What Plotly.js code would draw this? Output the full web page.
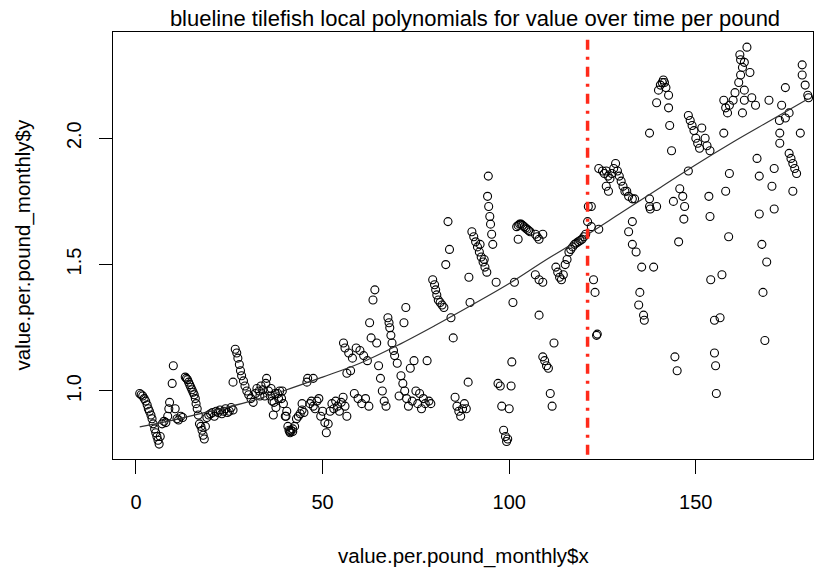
<!DOCTYPE html>
<html>
<head>
<meta charset="utf-8">
<script src="https://cdn.plot.ly/plotly-3.0.1.min.js"></script>
<style>
  body { margin: 0; background: #fff; }
  #chart { width: 826px; height: 569px; }
</style>
</head>
<body>
<div id="chart"></div>
<script>
// monthly value per pound
const monthX = [
  1,1.4,1.8,2.2,2.6,3,3.3,3.6,4,4.3,4.6,5,5.3,5.6,5.9,6.2,6.5,7,7.5,8,8.5,8.8,9,9.7,10,10.5,11,11.4,12,12.5,
  13.2,13.5,13.8,14.1,14.4,14.7,15,15.3,15.6,15.9,16.1,16.4,16.7,17,17.4,17.7,18,18.3,18.6,19,19.5,20,20.5,21,21.5,22,22.5,23,23.5,24,24.5,25,25.5,26,
  26.6,27,27.3,27.7,28,28.3,26,28.8,29.2,29.7,30.2,30.8,31.4,32,32.4,33,33.5,34,34.5,35,35.5,36,36.5,37,37.5,38,38.5,39,39.5,40,
  40.4,40.7,41,41.2,41.5,42,42.5,43,43.5,44,44.5,45,45.8,46,46.6,47,47.5,48,48.5,49,49.5,50,50.6,51,51.5,52,52.5,53,53.5,54,54.5,55,55.5,56,56.5,
  33.2,34.8,36.2,37.3,38.2,39.2,36.8,40.2,41.3,42,44.5,47.5,
  55.6,56,56.5,57,57.5,58,58.5,59,59.5,60,60.5,61,61.5,62,62.4,62.6,63,63.5,64,64.5,65,65.5,66,66.5,67,67.5,67.8,68,68.3,68.6,69,69.3,70,70.5,
  71,71.5,71.8,72,72.3,72.5,73,73.5,74,74.5,75,75.5,76,76.5,77,77.5,78,78.5,79,79.5,80,80.3,80.6,81,81.5,82,82.5,83,83.6,84,84.4,85,85.5,86,86.5,87,87.5,88,88.5,89,89.2,89.5,
  90,90.5,91,91.5,92,92.5,93,93.5,92.2,93.3,94,94.4,94.2,94.5,94.8,95,95.3,95.6,96.5,97,97.6,98,98.5,99,99.3,99.6,100,100.5,100.7,101,101.4,
  102,102.4,102.8,103.2,103.6,104,104.4,104.8,105.2,105.6,102.4,107,107.5,108,109,107,108,109,108,109,109.5,110,110.5,111,111.5,112,
  112.5,113,113.5,114,114.5,115,115.5,116,116.5,117,117.5,118,118.5,119,119.5,120,120.5,121,121.2,
  122,122,122.6,123,123.4,123.6,124,124,125,125.5,126,126.5,127,127.5,128,128.5,129,129.5,130,130.5,131,126.6,126,131.5,132,133,133.6,
  133,132,133,134,134.7,135,135.5,136,136.2,137.6,137.6,137.8,137.6,138.7,139.5,139.5,140,140.5,141,141.3,141.6,142,142.7,142.7,143,143.5,144,
  144.4,145,145.4,145.7,146.5,147,146.8,148,148,148.5,149,149.5,150,150.5,151,
  151.6,152.5,153,153.8,153.5,153.8,154,155,155,155.3,155.5,156.5,157,157.5,157.5,158,158.5,159,160,160.5,158,159,158.8,
  161.5,162,162.5,162,161.8,163,163.7,164.5,163,163,162.5,165,166,166.4,167,167,167.7,168,168.5,169,169.6,170.4,171,171,
  172.4,172.5,172.5,173,174,174,175,175,175.5,176,176.5,177,176,178,178.5,178.5,179.3,180,180.2
];
const valueY = [
  0.99,0.985,0.98,0.97,0.96,0.945,0.93,0.92,0.905,0.89,0.87,0.85,0.835,0.82,0.805,0.79,0.82,0.87,0.88,0.875,0.9,0.93,0.955,1.03,1.10,0.93,0.89,0.885,0.9,0.895,
  1.055,1.05,1.045,1.035,1.025,1.015,1.005,0.995,0.985,0.97,0.95,0.93,0.905,0.87,0.86,0.845,0.825,0.81,0.86,0.895,0.905,0.91,0.915,0.9,0.92,0.915,0.925,0.91,0.92,0.93,0.915,0.92,0.935,0.925,
  1.165,1.15,1.13,1.105,1.08,1.06,1.035,1.04,1.02,1.0,0.985,0.97,0.955,0.99,1.01,1.0,1.02,1.005,0.98,1.05,1.0,0.98,0.96,0.955,0.935,0.99,1.0,0.97,0.95,0.9,
  0.92,0.86,0.845,0.84,0.845,0.85,0.86,0.89,0.9,0.91,0.925,0.915,1.035,1.05,0.95,0.96,0.94,0.93,0.96,0.97,0.9,0.92,0.875,0.835,0.87,0.92,0.95,0.93,0.96,0.94,0.92,0.955,0.975,0.94,0.9,
  0.98,1.03,1.01,0.99,0.97,1.0,0.905,0.9,0.835,0.84,0.95,1.05,
  1.19,1.17,1.07,1.15,1.08,1.13,0.99,1.17,0.97,1.16,0.95,1.14,0.97,1.12,0.94,1.27,1.21,1.36,1.40,1.19,1.10,1.05,1.0,0.96,0.94,1.29,1.27,1.25,1.22,1.19,1.16,1.14,1.11,0.98,
  1.06,1.03,1.27,1.0,1.33,0.97,0.94,1.09,0.96,1.12,1.0,0.95,0.99,0.93,0.97,0.95,1.12,0.96,0.95,1.44,1.42,1.40,1.38,1.36,1.35,1.34,1.33,1.50,1.67,1.56,1.29,1.21,0.975,0.94,0.92,0.90,0.93,0.95,0.93,1.035,1.45,1.35,
  1.63,1.61,1.59,1.57,1.55,1.53,1.51,1.49,1.58,1.52,1.47,1.85,1.77,1.73,1.69,1.66,1.62,1.58,1.43,1.03,1.02,0.94,0.845,0.82,0.80,0.81,0.93,1.02,1.115,1.35,1.43,
  1.65,1.655,1.66,1.66,1.655,1.65,1.645,1.64,1.635,1.63,1.60,1.62,1.61,1.60,1.62,1.46,1.44,1.43,1.30,1.135,1.12,1.10,1.09,0.99,0.94,1.19,
  1.49,1.47,1.45,1.44,1.46,1.50,1.52,1.55,1.56,1.57,1.58,1.585,1.59,1.595,1.60,1.61,1.62,1.67,1.73,
  1.73,1.65,1.44,1.39,1.22,1.225,1.64,1.88,1.87,1.86,1.87,1.85,1.84,1.86,1.88,1.90,1.87,1.85,1.83,1.81,1.79,1.79,1.81,1.79,1.77,1.76,1.76,
  1.67,1.63,1.58,1.55,1.34,1.39,1.49,1.30,1.28,1.76,1.73,1.72,2.02,1.49,1.73,2.14,2.19,2.21,2.22,2.23,2.22,2.20,2.17,2.12,2.05,1.95,1.75,
  1.135,1.08,1.59,1.80,1.77,1.73,1.68,1.87,2.09,2.07,2.05,2.03,2.00,1.98,1.96,
  2.04,2.00,1.97,1.95,1.77,1.69,1.44,1.28,1.15,1.10,0.99,1.29,1.46,2.02,2.15,2.12,2.10,2.13,2.15,2.18,1.79,1.86,1.61,
  2.22,2.25,2.28,2.31,2.33,2.30,2.36,2.26,2.19,2.15,2.10,2.16,2.13,1.92,1.85,1.70,1.58,1.39,1.20,1.51,2.15,1.81,1.88,1.72,
  2.07,2.02,1.98,2.13,2.20,2.08,2.10,1.94,1.92,1.90,1.88,1.86,1.79,2.02,2.29,2.25,2.21,2.17,2.16
];

// local polynomial fit
const fitX = [1, 10, 20, 30, 40, 50, 60, 70, 80, 90, 100, 110, 120, 130, 140, 150, 160, 170, 180];
const fitY = [0.858, 0.885, 0.92, 0.957, 1.003, 1.055, 1.11, 1.18, 1.258, 1.34, 1.425, 1.52, 1.61, 1.705, 1.80, 1.895, 1.985, 2.07, 2.155];

const breakX = 121;
const xTicks = [0, 50, 100, 150];
const yTicks = [1.0, 1.5, 2.0];

const font = "Liberation Sans, Arial, Helvetica, sans-serif";

let data = [
  {
    x: monthX,
    y: valueY,
    type: "scatter",
    mode: "markers",
    marker: { symbol: "circle-open", size: 8, color: "#000", line: { width: 1.1 } },
    hoverinfo: "x+y"
  },
  {
    x: fitX,
    y: fitY,
    type: "scatter",
    mode: "lines",
    line: { color: "#333", width: 1.2, shape: "spline" }
  }
];

let layout = {
  width: 826,
  height: 569,
  margin: { l: 113, r: 13, t: 32, b: 110 },
  paper_bgcolor: "#fff",
  plot_bgcolor: "#fff",
  showlegend: false,
  font: { family: font, size: 20, color: "#000" },
  title: {
    text: "blueline tilefish local polynomials for value over time per pound",
    x: 475 / 826, xanchor: "center", y: 1 - 18 / 569, yanchor: "middle",
    font: { family: font, size: 22, color: "#000" }
  },
  xaxis: {
    range: [-6.16, 181.4],
    tickvals: xTicks,
    ticktext: xTicks.map(String),
    ticks: "outside", ticklen: 14, tickwidth: 1, tickcolor: "#000",
    showline: true, linecolor: "#000", linewidth: 1, mirror: true,
    showgrid: false, zeroline: false,
    ticklabelstandoff: 11,
    tickfont: { family: font, size: 20, color: "#000" }
  },
  yaxis: {
    range: [0.731, 2.42],
    tickvals: yTicks,
    ticktext: yTicks.map(v => v.toFixed(1)),
    tickangle: -90,
    ticks: "outside", ticklen: 13, tickwidth: 1, tickcolor: "#000",
    showline: true, linecolor: "#000", linewidth: 1, mirror: true,
    showgrid: false, zeroline: false,
    ticklabelstandoff: 10,
    tickfont: { family: font, size: 20, color: "#000" }
  },
  shapes: [
    {
      type: "line", xref: "x", yref: "paper",
      x0: breakX, x1: breakX, y0: 0.01, y1: 0.99,
      line: { color: "#ff2a1a", width: 3.5, dash: "10px,7px,3px,7px" }
    }
  ],
  annotations: [
    {
      text: "value.per.pound_monthly$x", xref: "paper", yref: "paper",
      x: 0.5, y: -(556 - 459) / 427, xanchor: "center", yanchor: "middle",
      showarrow: false, font: { family: font, size: 20.5, color: "#000" }
    },
    {
      text: "value.per.pound_monthly$y", xref: "paper", yref: "paper",
      x: -(113 - 22) / 700, y: 0.5, xanchor: "center", yanchor: "middle",
      textangle: -90, showarrow: false, font: { family: font, size: 20.5, color: "#000" }
    }
  ]
};

Plotly.newPlot("chart", data, layout, { displayModeBar: false, staticPlot: true });
</script>
</body>
</html>
